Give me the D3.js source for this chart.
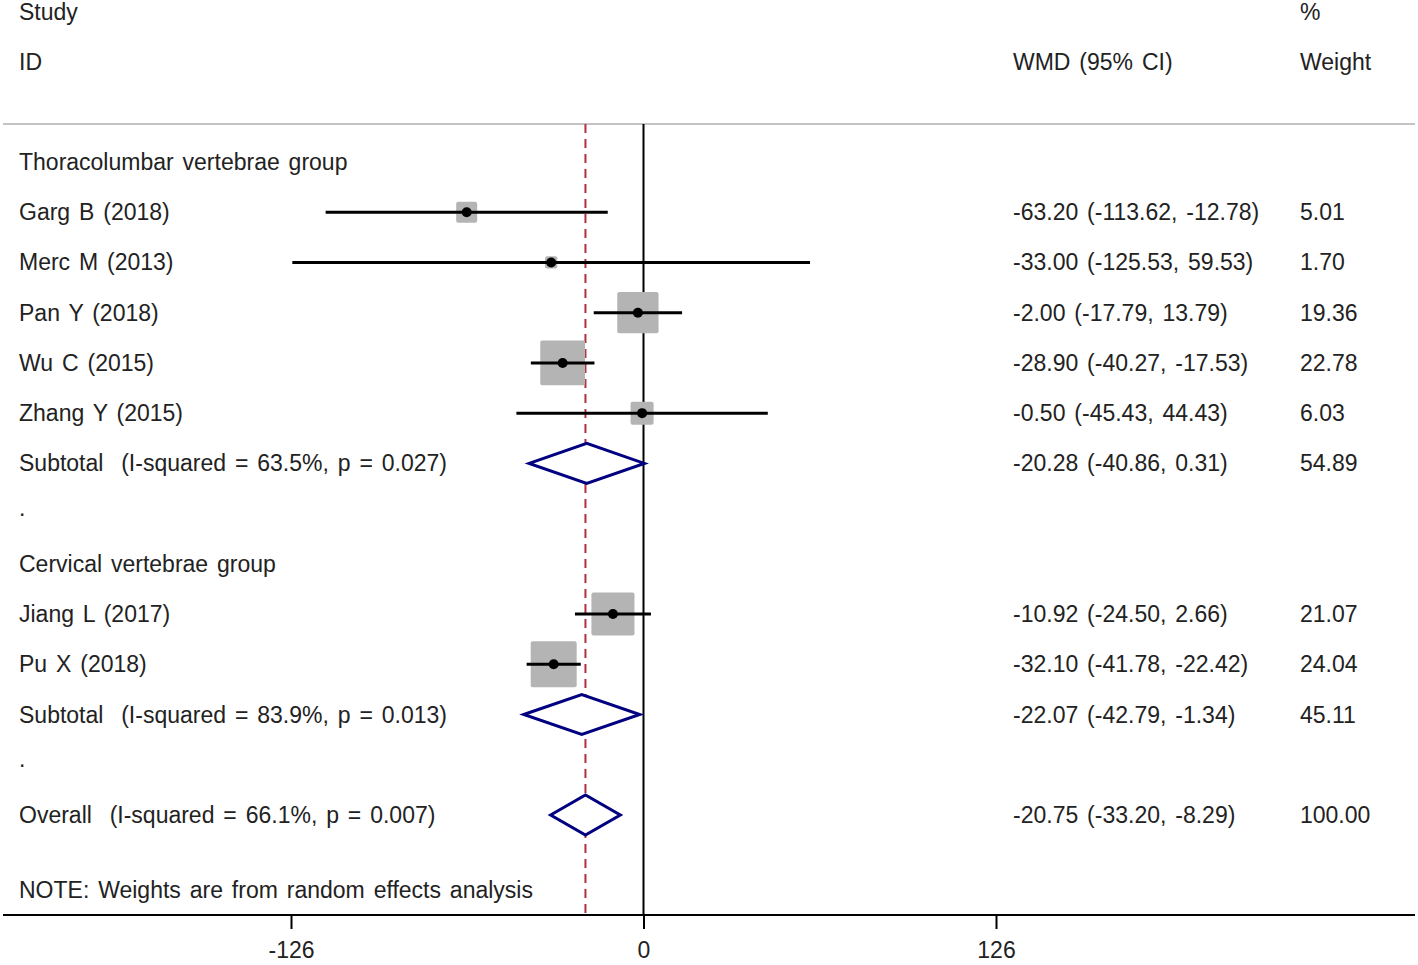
<!DOCTYPE html>
<html lang="en">
<head>
<meta charset="UTF-8" />
<title>Forest plot</title>
<script src="https://cdn.jsdelivr.net/npm/d3@7"></script>
<style>
  body { margin: 0; background: #fff; }
  svg text { font-family: "Liberation Sans", Arial, sans-serif; font-size: 23px; fill: #222; white-space: pre; word-spacing: 2.5px; }
</style>
</head>
<body>
<svg id="chart" width="1418" height="965"></svg>
<script>
// data
const groupNames = ["Thoracolumbar vertebrae group", "Cervical vertebrae group"];
const studies = ["Garg B (2018)", "Merc M (2013)", "Pan Y (2018)", "Wu C (2015)", "Zhang Y (2015)", "Jiang L (2017)", "Pu X (2018)"];
const studyGroup = [0, 0, 0, 0, 0, 1, 1];
const wmd = [-63.20, -33.00, -2.00, -28.90, -0.50, -10.92, -32.10];
const ciLow = [-113.62, -125.53, -17.79, -40.27, -45.43, -24.50, -41.78];
const ciHigh = [-12.78, 59.53, 13.79, -17.53, 44.43, 2.66, -22.42];
const weights = [5.01, 1.70, 19.36, 22.78, 6.03, 21.07, 24.04];

const subtotalLabels = ["Subtotal  (I-squared = 63.5%, p = 0.027)", "Subtotal  (I-squared = 83.9%, p = 0.013)"];
const subtotalEst = [-20.28, -22.07];
const subtotalLow = [-40.86, -42.79];
const subtotalHigh = [0.31, -1.34];
const subtotalWeight = [54.89, 45.11];

const overallLabel = "Overall  (I-squared = 66.1%, p = 0.007)";
const overallEst = -20.75, overallLow = -33.20, overallHigh = -8.29, overallWeight = 100.00;

const tickValues = [-126, 0, 126];
const noteText = "NOTE: Weights are from random effects analysis";

// layout
const svg = d3.select("#chart");
const x = d3.scaleLinear().domain([-126, 126]).range([291, 996]);
const y = d3.scaleLinear().domain([0, 13]).range([162, 815]);
const boxSize = d3.scaleSqrt().domain([0, 24.04]).range([0, 46]);
const colLabel = 19, colEst = 1013, colWt = 1300;
const topY = 124, axisY = 915;
const fmt = v => d3.format(".2f")(v).replace("\u2212", "-");
const ciText = (e, l, h) => `${fmt(e)} (${fmt(l)}, ${fmt(h)})`;

// build row list
const rows = [];
groupNames.forEach((g, gi) => {
  rows.push({ type: "group", label: g });
  studies.forEach((s, i) => {
    if (studyGroup[i] === gi) rows.push({ type: "study", label: s, est: wmd[i], lo: ciLow[i], hi: ciHigh[i], w: weights[i] });
  });
  rows.push({ type: "sub", label: subtotalLabels[gi], est: subtotalEst[gi], lo: subtotalLow[gi], hi: subtotalHigh[gi], w: subtotalWeight[gi] });
  rows.push({ type: "dot", label: "." });
});
rows.push({ type: "sub", label: overallLabel, est: overallEst, lo: overallLow, hi: overallHigh, w: overallWeight });

// headers
svg.append("text").attr("x", colLabel).attr("y", 12).attr("dominant-baseline", "central").text("Study");
svg.append("text").attr("x", colLabel).attr("y", 62).attr("dominant-baseline", "central").text("ID");
svg.append("text").attr("x", colEst).attr("y", 62).attr("dominant-baseline", "central").text("WMD (95% CI)");
svg.append("text").attr("x", colWt).attr("y", 12).attr("dominant-baseline", "central").text("%");
svg.append("text").attr("x", colWt).attr("y", 62).attr("dominant-baseline", "central").text("Weight");

svg.append("line").attr("x1", 3).attr("x2", 1415).attr("y1", topY).attr("y2", topY)
  .attr("stroke", "#b0b0b0").attr("stroke-width", 1.5);

// reference lines
svg.append("line").attr("x1", x(0)).attr("x2", x(0)).attr("y1", topY).attr("y2", axisY)
  .attr("stroke", "#000").attr("stroke-width", 2);
svg.append("line").attr("x1", x(overallEst)).attr("x2", x(overallEst)).attr("y1", topY).attr("y2", axisY)
  .attr("stroke", "#b03040").attr("stroke-width", 2).attr("stroke-dasharray", "9 6");

// rows
rows.forEach((r, i) => {
  const cy = y(i);
  svg.append("text").attr("x", colLabel).attr("y", r.type === "dot" ? cy - 6 : cy)
    .attr("dominant-baseline", "central").text(r.label);
  if (r.type === "study") {
    const s = boxSize(r.w);
    svg.append("rect").attr("x", x(r.est) - s / 2).attr("y", cy - s / 2)
      .attr("width", s).attr("height", s).attr("rx", 2).attr("fill", "#b4b4b4");
    svg.append("line").attr("x1", x(r.lo)).attr("x2", x(r.hi)).attr("y1", cy).attr("y2", cy)
      .attr("stroke", "#000").attr("stroke-width", 3);
    svg.append("circle").attr("cx", x(r.est)).attr("cy", cy).attr("r", 5).attr("fill", "#000");
  }
  if (r.type === "sub") {
    const pts = [[x(r.lo), cy], [x(r.est), cy - 20], [x(r.hi), cy], [x(r.est), cy + 20]];
    svg.append("path").attr("d", d3.line()(pts) + "Z")
      .attr("fill", "#fff").attr("stroke", "#000080").attr("stroke-width", 3);
  }
  if (r.est !== undefined) {
    svg.append("text").attr("x", colEst).attr("y", cy).attr("dominant-baseline", "central")
      .text(ciText(r.est, r.lo, r.hi));
    svg.append("text").attr("x", colWt).attr("y", cy).attr("dominant-baseline", "central")
      .text(fmt(r.w));
  }
});

svg.append("text").attr("x", colLabel).attr("y", y(14.5)).attr("dominant-baseline", "central").text(noteText);

// axis
svg.append("line").attr("x1", 3).attr("x2", 1415).attr("y1", axisY).attr("y2", axisY)
  .attr("stroke", "#000").attr("stroke-width", 2);
const axis = svg.append("g").attr("transform", `translate(0,${axisY})`)
  .call(d3.axisBottom(x).tickValues(tickValues).tickSize(14).tickPadding(13).tickFormat(d => String(d)));
axis.select(".domain").remove();
axis.selectAll(".tick line").attr("stroke", "#000").attr("stroke-width", 2);
axis.selectAll(".tick text").attr("font-size", null).attr("font-family", null);
</script>
</body>
</html>
